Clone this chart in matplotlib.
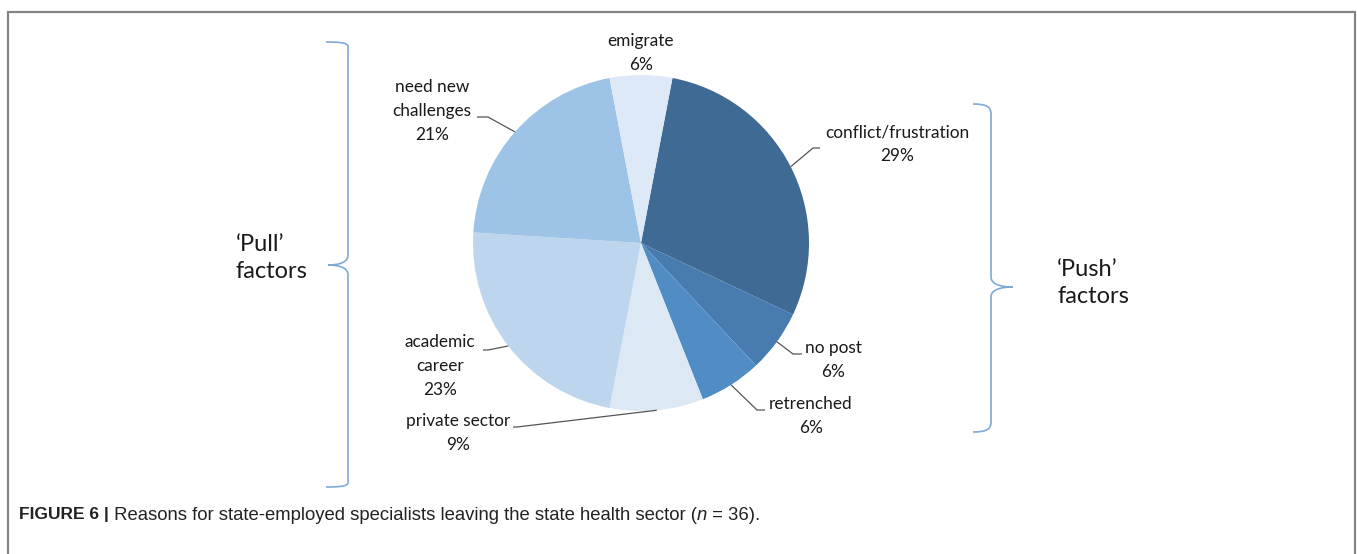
import numpy as np
import matplotlib
matplotlib.use("Agg")
import matplotlib.pyplot as plt
from matplotlib.path import Path
from matplotlib.patches import PathPatch
from matplotlib import font_manager

# reasons for leaving, clockwise from the top
reasons = ["conflict/frustration", "no post", "retrenched", "private sector",
           "academic career", "need new challenges", "emigrate"]
label_text = ["conflict/frustration", "no post", "retrenched", "private sector",
              "academic\ncareer", "need new\nchallenges", "emigrate"]
shares = [29, 6, 6, 9, 23, 21, 6]
colors = ["#3f6a94", "#487cb0", "#508dc5", "#dde8f5", "#bdd6ee", "#9dc3e6", "#dde9f6"]

W, H = 1357, 554
fig = plt.figure(figsize=(W / 100, H / 100), dpi=100)
ax = fig.add_axes([0, 0, 1, 1])

# pixel-style coordinates: x right, y measured from the top
def py(y):
    return H - y

cx, cy, r = 641, 243, 168
first = 10.8  # clockwise offset of the first wedge from 12 o'clock

wedges, _ = ax.pie(shares, colors=colors, startangle=90 - first, counterclock=False,
                   center=(cx, py(cy)), radius=r, frame=True,
                   wedgeprops=dict(linewidth=0))
ax.set_xlim(0, W)
ax.set_ylim(0, H)
ax.set_aspect("auto")
ax.axis("off")

fams = {f.name for f in font_manager.fontManager.ttflist}
lab_font = "Lato" if "Lato" in fams else "DejaVu Sans"
narrow = "Liberation Sans Narrow" if "Liberation Sans Narrow" in fams else "Liberation Sans"

# label block centre, elbow and end of the leader line (None = no leader)
label_pos = {
    "conflict/frustration": ((897, 144), (813, 148), (820, 148)),
    "no post": ((833, 360), (793, 354), (802, 354)),
    "retrenched": ((811, 416), (757, 410), (765, 410)),
    "private sector": ((458, 433), (517, 427), (513, 427)),
    "academic career": ((440, 366), (488, 350), (483, 350)),
    "need new challenges": ((432, 111), (488, 117), (477, 117)),
    "emigrate": ((641, 53), None, None),
}

for w, name, txt, s in zip(wedges, reasons, label_text, shares):
    (tx, ty), elbow, end = label_pos[name]
    ax.text(tx, py(ty), f"{txt}\n{s}%", ha="center", va="center", fontsize=12.4,
            family=lab_font, color="#1a1a1a", linespacing=1.6)
    if elbow is None:
        continue
    mid = np.deg2rad((w.theta1 + w.theta2) / 2)
    ax0, ay0 = cx + r * np.cos(mid), py(cy) + r * np.sin(mid)
    ax.plot([ax0, elbow[0], end[0]], [ay0, py(elbow[1]), py(end[1])],
            color="#555555", lw=0.9, solid_capstyle="butt")


def brace(x, top, bot, tip_y, depth, curl, color="#7fa9d6"):
    """Curly bracket; depth<0 points left, depth>0 points right."""
    sgn = np.sign(depth)
    xe = x - sgn * curl  # where the ends curl to
    verts = [(xe, py(top)), (x - sgn * 4, py(top)), (x, py(top + 3)), (x, py(top + 10)),
             (x, py(tip_y - 10)), (x, py(tip_y - 3)), (x + depth * 0.4, py(tip_y)),
             (x + depth, py(tip_y)),
             (x + depth * 0.4, py(tip_y)), (x, py(tip_y + 3)), (x, py(tip_y + 10)),
             (x, py(bot - 10)), (x, py(bot - 3)), (x - sgn * 4, py(bot)), (xe, py(bot))]
    codes = [Path.MOVETO, Path.CURVE4, Path.CURVE4, Path.CURVE4,
             Path.LINETO, Path.CURVE4, Path.CURVE4, Path.CURVE4,
             Path.CURVE4, Path.CURVE4, Path.CURVE4,
             Path.LINETO, Path.CURVE4, Path.CURVE4, Path.CURVE4]
    ax.add_patch(PathPatch(Path(verts, codes), fill=False, edgecolor=color, lw=1.2))


brace(348, 42, 487, 265, -20, -22)
brace(991, 104, 432, 287, 22, 18)

ax.text(236, py(258), "\u2018Pull\u2019\nfactors", ha="left", va="center", fontsize=17,
        family=lab_font, color="#1a1a1a", linespacing=1.3)
ax.text(1057, py(283), "\u2018Push\u2019\nfactors", ha="left", va="center", fontsize=17,
        family=lab_font, color="#1a1a1a", linespacing=1.3)

# grey frame open at the bottom
frame_c = "#858585"
ax.plot([7.5, 7.5, 1355, 1355], [0, py(12), py(12), 0], color=frame_c, lw=1.6,
        solid_joinstyle="miter")

# caption, drawn piece by piece
fig.canvas.draw()
renderer = fig.canvas.get_renderer()
pieces = [("FIGURE 6 |", narrow, 12.5, "bold", "normal"),
          (" Reasons for state-employed specialists leaving the state health sector (",
           "Liberation Sans", 13.3, "normal", "normal"),
          ("n", "Liberation Sans", 13.3, "normal", "italic"),
          (" = 36).", "Liberation Sans", 13.3, "normal", "normal")]
x = 19
for txt, fam, size, weight, style in pieces:
    t = ax.text(x, py(515), txt, ha="left", va="center", fontsize=size, family=fam,
                fontweight=weight, fontstyle=style, color="#222222")
    bb = t.get_window_extent(renderer)
    x += bb.width

fig.savefig("out.png", dpi=100)
